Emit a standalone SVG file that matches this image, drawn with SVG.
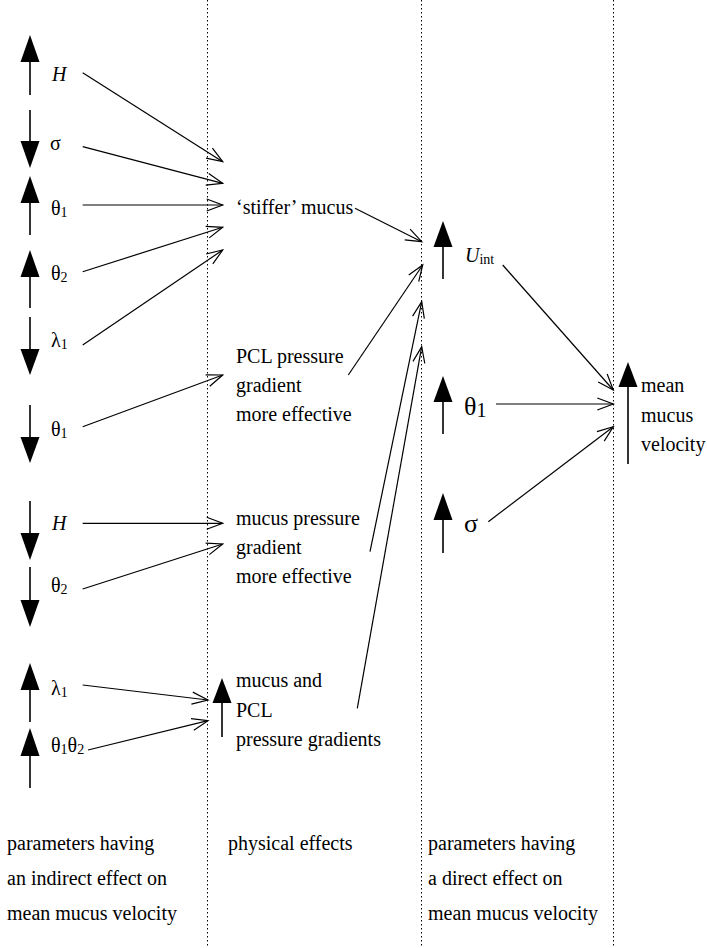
<svg xmlns="http://www.w3.org/2000/svg" width="707" height="948" viewBox="0 0 707 948" font-family="'Liberation Serif', 'DejaVu Serif', 'Times New Roman', serif">
<style>
text{font-family:'Liberation Serif','DejaVu Serif','Times New Roman',serif;font-size:20px;fill:#000}
.big{font-size:26px}
.sub{font-size:14px}
.subbig{font-size:20px}
.it{font-style:italic}
.dot{stroke:#000;stroke-width:1;stroke-dasharray:1.5,2.5;fill:none}
.shaft{stroke:#000;stroke-width:1.6;fill:none}
.head{fill:#000;stroke:none}
.conn line{stroke:#000;stroke-width:1.2;fill:none;marker-end:url(#open)}
</style>
<defs>
<marker id="open" markerUnits="userSpaceOnUse" viewBox="-18 -8 20 16" refX="0" refY="0" markerWidth="20" markerHeight="16" orient="auto" overflow="visible">
<path d="M-16,-6 L0,0 L-16,6" fill="none" stroke="#000" stroke-width="1.2"/>
</marker>
</defs>
<rect width="707" height="948" fill="#fff"/>
<g id="dividers">
<line class="dot" x1="207.5" y1="0" x2="207.5" y2="948"/>
<line class="dot" x1="421.5" y1="0" x2="421.5" y2="948"/>
<line class="dot" x1="613.5" y1="0" x2="613.5" y2="948"/>
</g>
<g id="p-H-up"><polygon class="head" points="30,35 20.5,62 39.5,62"/><line class="shaft" x1="30" y1="62" x2="30" y2="95"/><text x="52" y="81" class="it">H</text></g>
<g id="p-sigma-down"><polygon class="head" points="30,168 20.5,141 39.5,141"/><line class="shaft" x1="30" y1="110" x2="30" y2="141"/><text x="50" y="150">σ</text></g>
<g id="p-theta1-up"><polygon class="head" points="30,176 20.5,203 39.5,203"/><line class="shaft" x1="30" y1="203" x2="30" y2="235"/><text x="51" y="215">θ<tspan class="sub" dy="2">1</tspan></text></g>
<g id="p-theta2-up"><polygon class="head" points="30,250 20.5,277 39.5,277"/><line class="shaft" x1="30" y1="277" x2="30" y2="308"/><text x="51" y="280">θ<tspan class="sub" dy="2">2</tspan></text></g>
<g id="p-lambda1-down"><polygon class="head" points="30,375 20.5,349 39.5,349"/><line class="shaft" x1="30" y1="317" x2="30" y2="349"/><text x="51" y="347">λ<tspan class="sub" dy="2">1</tspan></text></g>
<g id="p-theta1-down"><polygon class="head" points="30,463 20.5,437 39.5,437"/><line class="shaft" x1="30" y1="405" x2="30" y2="437"/><text x="51" y="436">θ<tspan class="sub" dy="2">1</tspan></text></g>
<g id="p-H-down"><polygon class="head" points="30,560 20.5,533 39.5,533"/><line class="shaft" x1="30" y1="501" x2="30" y2="533"/><text x="52" y="530" class="it">H</text></g>
<g id="p-theta2-down"><polygon class="head" points="30,627 20.5,600 39.5,600"/><line class="shaft" x1="30" y1="567" x2="30" y2="600"/><text x="51" y="592">θ<tspan class="sub" dy="2">2</tspan></text></g>
<g id="p-lambda1-up"><polygon class="head" points="30,663 20.5,690 39.5,690"/><line class="shaft" x1="30" y1="690" x2="30" y2="722"/><text x="51" y="695">λ<tspan class="sub" dy="2">1</tspan></text></g>
<g id="p-theta1theta2-up"><polygon class="head" points="30,728 20.5,756 39.5,756"/><line class="shaft" x1="30" y1="756" x2="30" y2="788"/><text x="51" y="752">θ<tspan class="sub" dy="2">1</tspan><tspan dy="-2">θ</tspan><tspan class="sub" dy="2">2</tspan></text></g>
<g id="e-stiffer"><text x="236" y="214">‘stiffer’ mucus</text></g>
<g id="e-pcl"><text x="236" y="363">PCL pressure</text><text x="236" y="392">gradient</text><text x="236" y="421">more effective</text></g>
<g id="e-mucus"><text x="236" y="525">mucus pressure</text><text x="236" y="554">gradient</text><text x="236" y="583">more effective</text></g>
<g id="e-both"><polygon class="head" points="222,678 212.5,703 231.5,703"/><line class="shaft" x1="222" y1="703" x2="222" y2="737"/><text x="236" y="687">mucus and</text><text x="236" y="717">PCL</text><text x="236" y="746">pressure gradients</text></g>
<g id="d-Uint"><polygon class="head" points="443,221 433.5,247 452.5,247"/><line class="shaft" x1="443" y1="247" x2="443" y2="279"/><text x="465" y="262"><tspan class="it">U</tspan><tspan class="sub" dy="2">int</tspan></text></g>
<g id="d-theta1"><polygon class="head" points="443,376 433.5,402 452.5,402"/><line class="shaft" x1="443" y1="402" x2="443" y2="434"/><text x="464" y="415" class="big">θ<tspan class="subbig" dy="2">1</tspan></text></g>
<g id="d-sigma"><polygon class="head" points="443,493 433.5,520 452.5,520"/><line class="shaft" x1="443" y1="520" x2="443" y2="553"/><text x="464" y="532" class="big">σ</text></g>
<g id="v-mean"><polygon class="head" points="628,362 618.5,387 637.5,387"/><line class="shaft" x1="628" y1="387" x2="628" y2="464"/><text x="641" y="392">mean</text><text x="641" y="422">mucus</text><text x="641" y="451">velocity</text></g>
<g id="cap-indirect"><text x="7" y="850">parameters having</text><text x="7" y="885">an indirect effect on</text><text x="7" y="920">mean mucus velocity</text></g>
<g id="cap-physical"><text x="228" y="850">physical effects</text></g>
<g id="cap-direct"><text x="428" y="850">parameters having</text><text x="428" y="885">a direct effect on</text><text x="428" y="920">mean mucus velocity</text></g>
<g id="connectors" class="conn">
<line x1="82.7" y1="72.7" x2="222.7" y2="161.7"/>
<line x1="82.7" y1="146.7" x2="222.7" y2="183.3"/>
<line x1="82.7" y1="205" x2="222.7" y2="205"/>
<line x1="82.7" y1="271.7" x2="222.7" y2="227.3"/>
<line x1="82.7" y1="345" x2="222.7" y2="250"/>
<line x1="82.7" y1="426.7" x2="222.7" y2="375"/>
<line x1="82.7" y1="523.3" x2="222.7" y2="523.3"/>
<line x1="82.7" y1="589" x2="222.7" y2="544"/>
<line x1="82.7" y1="685" x2="208" y2="700"/>
<line x1="88" y1="750" x2="208" y2="720.7"/>
<line x1="355" y1="208.3" x2="421.7" y2="241.7"/>
<line x1="348.3" y1="375" x2="422.7" y2="265"/>
<line x1="370" y1="551.7" x2="421.7" y2="301.7"/>
<line x1="357.3" y1="708.3" x2="421.7" y2="346.7"/>
<line x1="502.7" y1="265" x2="613.3" y2="390"/>
<line x1="496" y1="404" x2="613.3" y2="404"/>
<line x1="488.3" y1="521.7" x2="613.3" y2="426.7"/>
</g>
</svg>
